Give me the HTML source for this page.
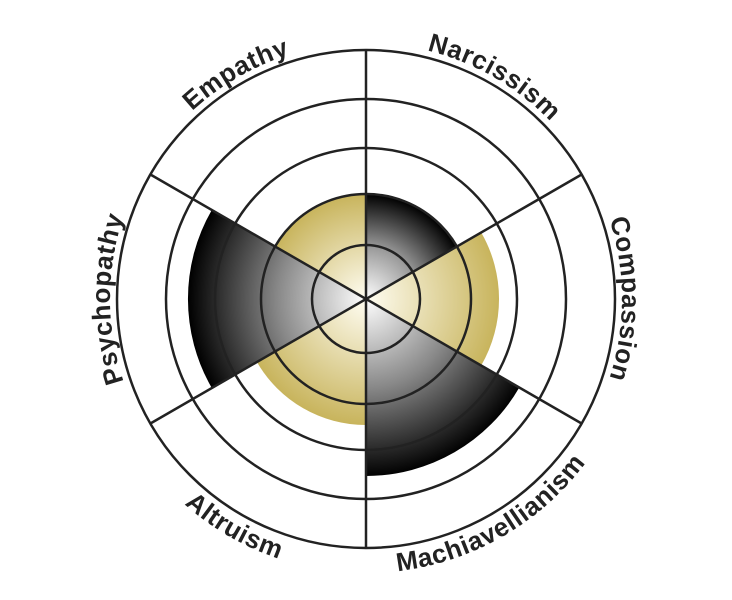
<!DOCTYPE html>
<html><head><meta charset="utf-8"><style>
html,body{margin:0;padding:0;background:#fff;}
svg{display:block;}
text{font-family:"Liberation Sans",sans-serif;font-weight:bold;font-size:26px;letter-spacing:0.6px;fill:#222;}
</style></head><body>
<svg width="732" height="600" viewBox="0 0 732 600" xmlns="http://www.w3.org/2000/svg">
<defs>
<radialGradient id="gN" gradientUnits="userSpaceOnUse" cx="366" cy="299" r="105"><stop offset="0" stop-color="#fff"/><stop offset="0.5" stop-color="#999"/><stop offset="1" stop-color="#000"/></radialGradient>
<radialGradient id="gM" gradientUnits="userSpaceOnUse" cx="366" cy="299" r="178"><stop offset="0" stop-color="#fff"/><stop offset="0.5" stop-color="#888"/><stop offset="1" stop-color="#000"/></radialGradient>
<radialGradient id="gC" gradientUnits="userSpaceOnUse" cx="366" cy="299" r="133"><stop offset="0" stop-color="#fffdf2"/><stop offset="1" stop-color="#c8b45c"/></radialGradient>
<radialGradient id="gA" gradientUnits="userSpaceOnUse" cx="366" cy="299" r="126"><stop offset="0" stop-color="#fffdf2"/><stop offset="1" stop-color="#c8b45c"/></radialGradient>
<radialGradient id="gE" gradientUnits="userSpaceOnUse" cx="366" cy="299" r="105"><stop offset="0" stop-color="#fffdf2"/><stop offset="1" stop-color="#c8b45c"/></radialGradient>
<path id="pE" d="M110,299 A256,256 0 0 1 494,77.3"/>
<path id="pN" d="M238,77.3 A256,256 0 0 1 622,299"/>
<path id="pC" d="M494,77.3 A256,256 0 0 1 494,520.7"/>
<path id="pP" d="M238,520.7 A256,256 0 0 1 238,77.3"/>
<path id="pM" d="M229,536.3 A274,274 0 0 0 640,299"/>
<path id="pA" d="M92,299 A274,274 0 0 0 503,536.3"/>
</defs>
<path d="M366,299 L366,194 A105,105 0 0 1 456.9,246.5 Z" fill="url(#gN)"/>
<path d="M366,299 L481.2,232.5 A133,133 0 0 1 481.2,365.5 Z" fill="url(#gC)"/>
<path d="M366,299 L519.3,387.5 A177,177 0 0 1 366,476 Z" fill="url(#gM)"/>
<path d="M366,299 L366,425 A126,126 0 0 1 256.9,362 Z" fill="url(#gA)"/>
<path d="M366,299 L211.8,388 A178,178 0 0 1 211.8,210 Z" fill="url(#gM)"/>
<path d="M366,299 L275.1,246.5 A105,105 0 0 1 366,194 Z" fill="url(#gE)"/>
<g fill="none" stroke="#222" stroke-width="2.5">
<circle cx="366" cy="299" r="54"/>
<circle cx="366" cy="299" r="105"/>
<circle cx="366" cy="299" r="151"/>
<circle cx="366" cy="299" r="200"/>
<circle cx="366" cy="299" r="249"/>
<line x1="366" y1="50" x2="366" y2="548"/>
<line x1="150.4" y1="174.5" x2="581.6" y2="423.5"/>
<line x1="150.4" y1="423.5" x2="581.6" y2="174.5"/>
</g>
<text><textPath href="#pE" startOffset="50%" text-anchor="middle">Empathy</textPath></text>
<text><textPath href="#pN" startOffset="50%" text-anchor="middle">Narcissism</textPath></text>
<text><textPath href="#pC" startOffset="50%" text-anchor="middle">Compassion</textPath></text>
<text><textPath href="#pP" startOffset="50%" text-anchor="middle">Psychopathy</textPath></text>
<text><textPath href="#pM" startOffset="50%" text-anchor="middle">Machiavellianism</textPath></text>
<text><textPath href="#pA" startOffset="50%" text-anchor="middle">Altruism</textPath></text>
</svg>
</body></html>
